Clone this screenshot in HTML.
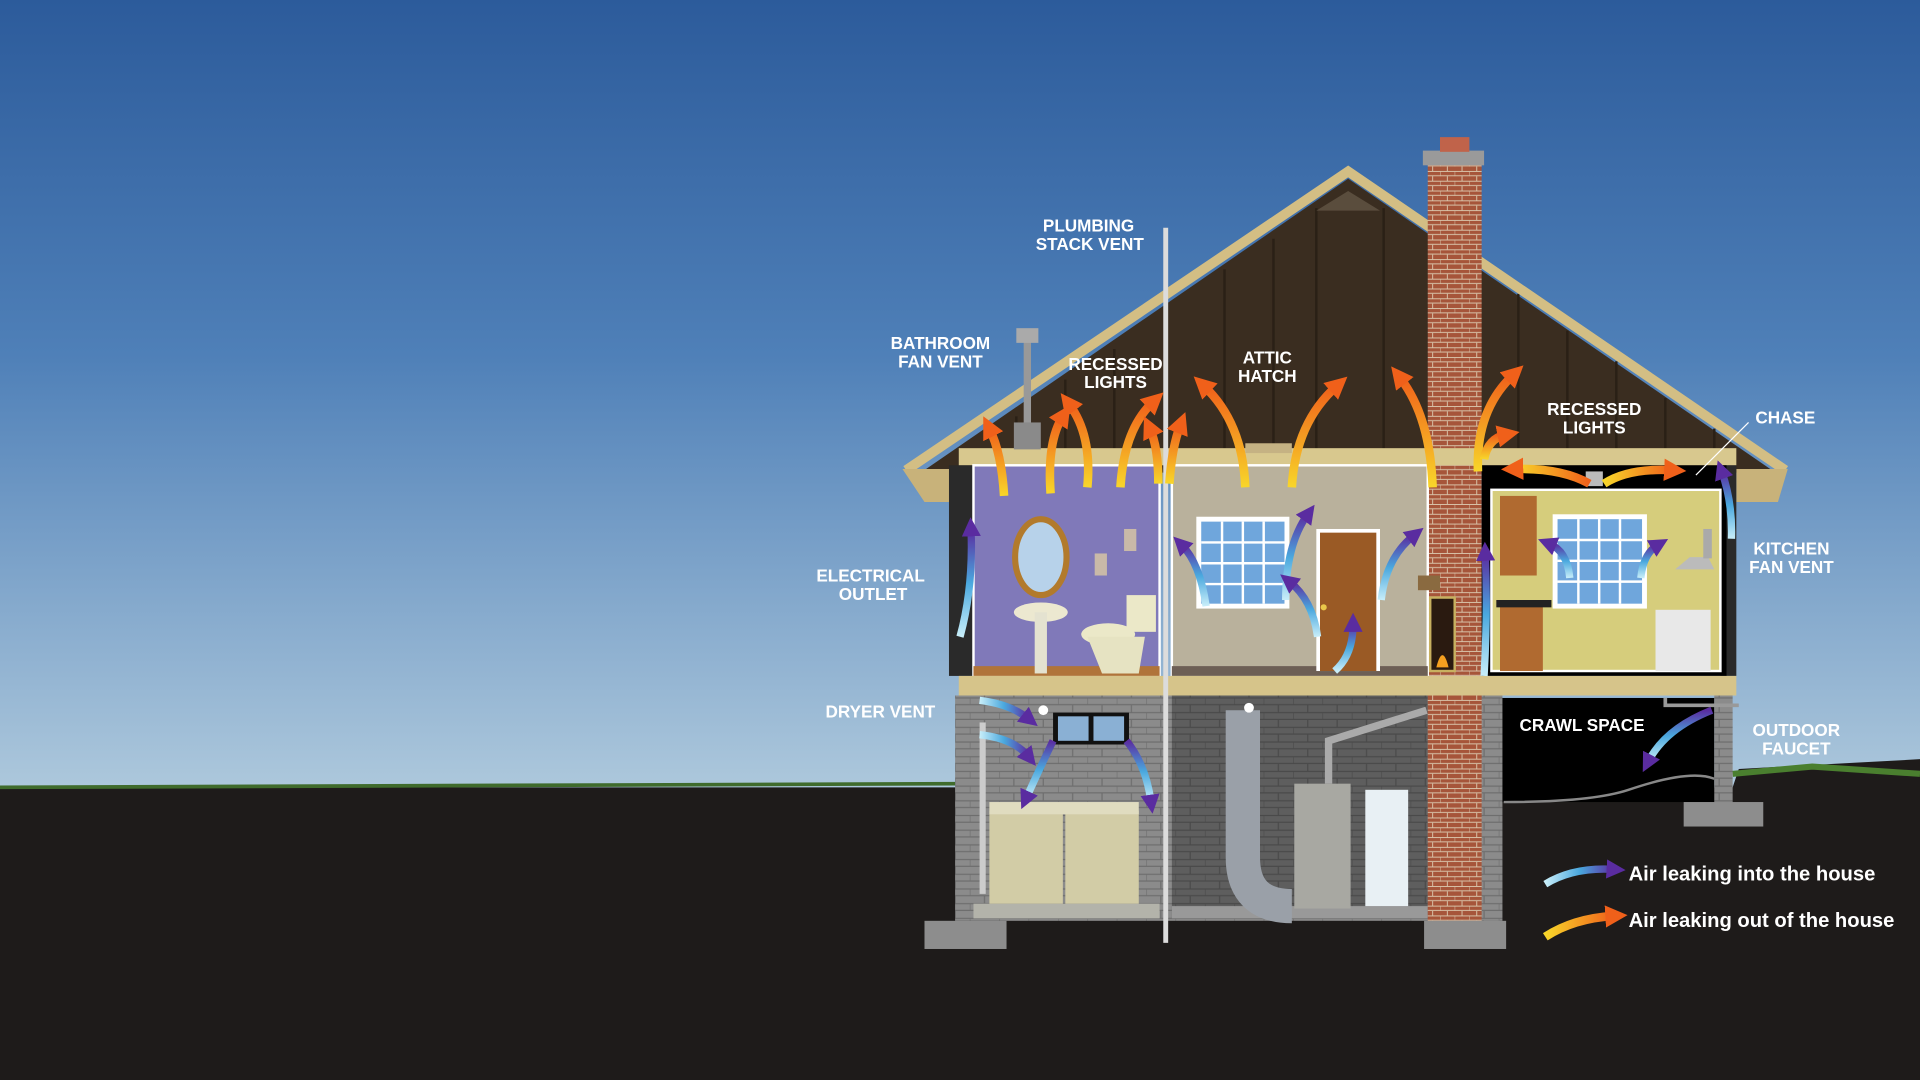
<!DOCTYPE html>
<html><head><meta charset="utf-8"><style>
html,body{margin:0;padding:0;background:#1d1a19;overflow:hidden}
svg{display:block}
text{font-family:"Liberation Sans",Arial,sans-serif;font-weight:bold;fill:#fff}
</style></head><body>
<svg width="1920" height="1080" viewBox="0 0 1568 882" preserveAspectRatio="none" xmlns="http://www.w3.org/2000/svg">
<defs>
<linearGradient id="sky" x1="0" y1="0" x2="0" y2="1">
<stop offset="0" stop-color="#2c5b9b"/><stop offset="0.45" stop-color="#4f80b8"/><stop offset="1" stop-color="#adc8dc"/></linearGradient>
<linearGradient id="og" x1="0" y1="1" x2="0" y2="0"><stop offset="0" stop-color="#f8d62a"/><stop offset="1" stop-color="#f0601a"/></linearGradient>
<linearGradient id="bg" x1="0" y1="1" x2="0" y2="0"><stop offset="0" stop-color="#c8eef9"/><stop offset="0.5" stop-color="#4aa8de"/><stop offset="1" stop-color="#5a2ca0"/></linearGradient>
<linearGradient id="bgh" x1="0" y1="0" x2="1" y2="0"><stop offset="0" stop-color="#c8eef9"/><stop offset="0.5" stop-color="#4aa8de"/><stop offset="1" stop-color="#5a2ca0"/></linearGradient>
<linearGradient id="ogh" x1="0" y1="0" x2="1" y2="0"><stop offset="0" stop-color="#f8d62a"/><stop offset="1" stop-color="#f0601a"/></linearGradient>
<marker id="mo" markerWidth="2.6" markerHeight="2.6" refX="1" refY="1.3" orient="auto"><path d="M0,0 L2.6,1.3 L0,2.6 z" fill="#f0601a"/></marker>
<marker id="mb" markerWidth="2.6" markerHeight="2.6" refX="1" refY="1.3" orient="auto"><path d="M0,0 L2.6,1.3 L0,2.6 z" fill="#5a2ca0"/></marker>
<pattern id="brick" width="12" height="8" patternUnits="userSpaceOnUse"><rect width="12" height="8" fill="#a6553a"/><path d="M0,7.5H12M6,0V4M0,4H12M0,4V8" stroke="#d8c2a8" stroke-width="0.8"/></pattern>
<pattern id="block" width="24" height="12" patternUnits="userSpaceOnUse"><rect width="24" height="12" fill="#8b8b8b"/><path d="M0,11.5H24M12,0V6M0,6H24M0,6V12" stroke="#6e6e6e" stroke-width="1"/></pattern>
<pattern id="block2" width="24" height="12" patternUnits="userSpaceOnUse"><rect width="24" height="12" fill="#5e5e5e"/><path d="M0,11.5H24M12,0V6M0,6H24M0,6V12" stroke="#4a4a4a" stroke-width="1"/></pattern>
</defs>
<rect width="1568" height="645" fill="url(#sky)"/>
<path d="M0,643 L1415,643 L1420,628 L1568,620 L1568,882 L0,882 z" fill="#1e1b1a"/>
<path d="M0,643 L780,640" stroke="#3f6b2c" stroke-width="3"/>
<path d="M1415,632 L1480,626 L1568,632" stroke="#4a7f2f" stroke-width="5" fill="none"/>
<polygon points="752,386 1101,146 1450,386" fill="#3a2d20"/>
<g stroke="#2a2016" stroke-width="2">
<path d="M830,340V380M870,310V380M910,285V380M1000,220V380M1040,195V380M1075,170V380M1130,170V380M1240,240V380M1280,270V380M1320,295V380M1360,325V380M1400,350V380"/></g>
<polygon points="1075,172 1101,156 1127,172" fill="#5a4d3d"/>
<polyline points="740,384 1101,140 1458,384" fill="none" stroke="#d3be84" stroke-width="8"/>
<polygon points="737,383 783,383 783,410 755,410" fill="#c8b27a"/>
<polygon points="1460,383 1418,383 1418,410 1452,410" fill="#c8b27a"/>
<rect x="1166" y="128" width="44" height="624" fill="url(#brick)"/>
<rect x="1162" y="123" width="50" height="12" fill="#9a9a9a"/>
<rect x="1176" y="112" width="24" height="12" fill="#c0634a"/>
<rect x="783" y="366" width="635" height="14" fill="#d8c88e"/>
<rect x="1017" y="362" width="38" height="8" fill="#c5b283"/>
<rect x="775" y="380" width="20" height="172" fill="#2a2a2a"/>
<rect x="1405" y="380" width="13" height="172" fill="#2a2a2a"/>
<rect x="795" y="380" width="152" height="172" fill="#8079b9" stroke="#fff" stroke-width="2"/>
<rect x="957" y="380" width="209" height="172" fill="#b9b19c" stroke="#fff" stroke-width="2"/>
<rect x="1210" y="380" width="200" height="172" fill="#000"/>
<rect x="1218" y="400" width="187" height="148" fill="#d6cd7c" stroke="#fff" stroke-width="2"/>
<rect x="957" y="544" width="209" height="8" fill="#6d5f55"/>
<rect x="795" y="544" width="152" height="8" fill="#b0743a"/>
<rect x="836" y="270" width="6" height="90" fill="#999"/><rect x="828" y="345" width="22" height="22" fill="#8a8a8a"/><rect x="830" y="268" width="18" height="12" fill="#aaa"/>
<ellipse cx="850" cy="455" rx="21" ry="31" fill="#b7d2ea" stroke="#b27a2c" stroke-width="5"/>
<rect x="894" y="452" width="10" height="18" fill="#c9b9a8"/><rect x="918" y="432" width="10" height="18" fill="#c9b9a8"/>
<ellipse cx="850" cy="500" rx="22" ry="8" fill="#ece8d0"/><rect x="845" y="500" width="10" height="50" fill="#e4e2d0"/>
<rect x="920" y="486" width="24" height="30" fill="#ebe8c8"/><ellipse cx="905" cy="518" rx="22" ry="9" fill="#ebe8c8"/><path d="M888,520 L935,520 L930,550 L900,550z" fill="#e6e3c2"/>
<rect x="977" y="422" width="76" height="75" fill="#fff"/><rect x="981" y="426" width="68" height="67" fill="#6fa6dc"/>
<path d="M998,426V493M1015,426V493M1032,426V493M981,443H1049M981,460H1049M981,477H1049" stroke="#fff" stroke-width="2"/>
<rect x="1075" y="432" width="52" height="116" fill="#fff"/><rect x="1078" y="435" width="46" height="113" fill="#9a5a25"/><circle cx="1081" cy="496" r="2.5" fill="#e9c84a"/>
<rect x="1158" y="470" width="18" height="12" fill="#8a6a40"/><rect x="1168" y="488" width="20" height="60" fill="#2a1a10" stroke="#c8b060" stroke-width="2"/>
<path d="M1173,545 Q1178,525 1183,545z" fill="#f5a020"/>
<rect x="1268" y="420" width="77" height="77" fill="#fff"/><rect x="1272" y="424" width="69" height="69" fill="#6fa6dc"/>
<path d="M1289,424V493M1306,424V493M1323,424V493M1272,441H1341M1272,458H1341M1272,475H1341" stroke="#fff" stroke-width="2"/>
<rect x="1225" y="405" width="30" height="65" fill="#b06a30"/><rect x="1225" y="495" width="35" height="53" fill="#b06a30"/><rect x="1222" y="490" width="45" height="6" fill="#222"/>
<rect x="1352" y="498" width="45" height="50" fill="#e8e8e8"/><path d="M1368,465 L1400,465 L1395,455 L1380,455z" fill="#bbb"/><rect x="1391" y="432" width="7" height="24" fill="#aaa"/>
<rect x="1295" y="385" width="14" height="12" fill="#bbb"/>
<rect x="783" y="552" width="635" height="16" fill="#d6c48a"/>
<rect x="780" y="568" width="445" height="184" fill="url(#block)"/>
<rect x="957" y="568" width="209" height="182" fill="url(#block2)"/>
<rect x="795" y="738" width="152" height="12" fill="#b3b3aa"/><rect x="957" y="740" width="209" height="10" fill="#999"/>
<rect x="1166" y="568" width="44" height="184" fill="url(#brick)"/>
<rect x="1225" y="570" width="175" height="85" fill="#000"/>
<path d="M1228,655 Q1300,655 1330,645 Q1380,628 1400,636" stroke="#888" stroke-width="2" fill="none"/>
<rect x="1212" y="568" width="15" height="184" fill="url(#block)"/>
<rect x="1400" y="568" width="15" height="88" fill="url(#block)"/>
<rect x="755" y="752" width="67" height="23" fill="#8d8d8d"/><rect x="1163" y="752" width="67" height="23" fill="#8d8d8d"/><rect x="1375" y="655" width="65" height="20" fill="#8d8d8d"/>
<rect x="860" y="582" width="62" height="26" fill="#111"/><rect x="864" y="585" width="25" height="20" fill="#8ab0d4"/><rect x="893" y="585" width="25" height="20" fill="#8ab0d4"/>
<rect x="808" y="662" width="60" height="76" fill="#d2cca6"/><rect x="870" y="662" width="60" height="76" fill="#d2cca6"/><rect x="808" y="655" width="122" height="10" fill="#e0dcc0"/>
<rect x="800" y="590" width="5" height="140" fill="#ccc"/>
<path d="M1015,580 L1015,700 Q1015,740 1055,740" stroke="#9aa0a8" stroke-width="28" fill="none"/>
<rect x="1057" y="640" width="46" height="102" fill="#a8a8a2"/><rect x="1115" y="645" width="35" height="95" fill="#e8f0f4"/>
<path d="M1085,640 V605 L1165,580" stroke="#aaa" stroke-width="6" fill="none"/>
<circle cx="852" cy="580" r="4" fill="#fff"/><circle cx="1020" cy="578" r="4" fill="#fff"/>
<rect x="950" y="186" width="4" height="584" fill="#dcdcdc"/>
<path d="M1360,570V576H1420" stroke="#999" stroke-width="3" fill="none"/>
<g fill="none" stroke="url(#og)" stroke-width="7" marker-end="url(#mo)">
<path d="M820,405 Q818,370 808,350"/>
<path d="M858,403 Q855,360 868,340"/>
<path d="M888,398 Q892,355 873,330"/>
<path d="M915,398 Q918,350 942,328"/>
<path d="M946,395 Q946,365 939,350"/>
<path d="M955,395 Q957,365 964,347"/>
<path d="M1017,398 Q1015,345 983,315"/>
<path d="M1055,398 Q1058,345 1092,315"/>
<path d="M1170,398 Q1168,340 1143,308"/>
<path d="M1207,385 Q1205,335 1236,306"/>
<path d="M1212,375 Q1215,358 1230,355"/>
</g>
<g fill="none" stroke="url(#ogh)" stroke-width="7" marker-end="url(#mo)">
<path d="M1298,395 Q1275,382 1237,383"/>
<path d="M1310,395 Q1330,382 1366,384"/>
<path d="M1262,765 Q1285,750 1318,748"/>
</g>
<g fill="none" stroke="url(#bg)" stroke-width="6" marker-end="url(#mb)">
<path d="M784,520 Q795,480 793,432"/>
<path d="M985,495 Q980,460 965,445"/>
<path d="M1050,490 Q1050,445 1068,420"/>
<path d="M1076,520 Q1072,490 1053,475"/>
<path d="M1090,548 Q1105,535 1105,510"/>
<path d="M1128,490 Q1132,455 1155,437"/>
<path d="M1212,552 Q1215,500 1213,452"/>
<path d="M1282,472 Q1280,450 1265,444"/>
<path d="M1340,472 Q1342,452 1354,445"/>
<path d="M1414,440 Q1415,410 1406,385"/>
<path d="M860,605 Q848,630 838,652"/>
<path d="M920,605 Q936,625 940,655"/>
<path d="M1398,580 Q1360,595 1346,622"/>
</g>
<g fill="none" stroke="url(#bgh)" stroke-width="6" marker-end="url(#mb)">
<path d="M800,572 Q825,575 840,587"/>
<path d="M800,600 Q828,603 840,618"/>
<path d="M1262,722 Q1285,708 1318,710"/>
</g>
<path d="M1428,345 L1385,388" stroke="#fff" stroke-width="1"/>
<g font-size="14" text-anchor="middle">
<text x="889" y="189">PLUMBING</text><text x="890" y="204">STACK VENT</text>
<text x="768" y="285">BATHROOM</text><text x="768" y="300">FAN VENT</text>
<text x="911" y="302">RECESSED</text><text x="911" y="317">LIGHTS</text>
<text x="1035" y="297">ATTIC</text><text x="1035" y="312">HATCH</text>
<text x="1302" y="339">RECESSED</text><text x="1302" y="354">LIGHTS</text>
<text x="1458" y="346">CHASE</text>
<text x="1463" y="453">KITCHEN</text><text x="1463" y="468">FAN VENT</text>
<text x="711" y="475">ELECTRICAL</text><text x="713" y="490">OUTLET</text>
<text x="719" y="586">DRYER VENT</text>
<text x="1292" y="597">CRAWL SPACE</text>
<text x="1467" y="601">OUTDOOR</text><text x="1467" y="616">FAUCET</text>
</g>
<g font-size="16.5">
<text x="1330" y="719">Air leaking into the house</text>
<text x="1330" y="757">Air leaking out of the house</text>
</g>
</svg>
</body></html>
